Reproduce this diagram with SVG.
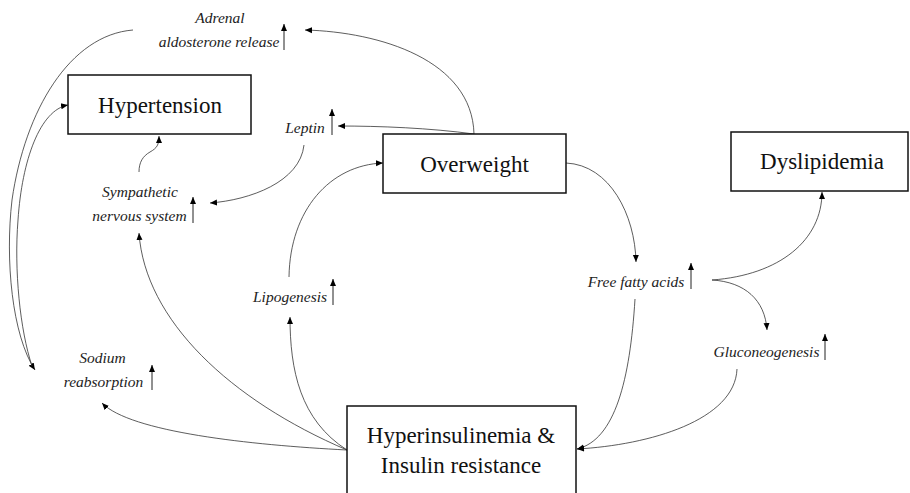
<svg xmlns="http://www.w3.org/2000/svg" width="910" height="493" viewBox="0 0 910 493" font-family="Liberation Serif, serif">
<style>
.box{fill:#fff;stroke:#111;stroke-width:1.5}
.c{fill:none;stroke:#333;stroke-width:0.8}
.up{stroke:#222;stroke-width:1}
</style>
<defs>
<marker id="ah" markerUnits="userSpaceOnUse" markerWidth="8" markerHeight="8" viewBox="0 0 8 8" refX="7" refY="4" orient="auto">
<path d="M0,1 L7,4 L0,7 Z" fill="#000"/>
</marker>
</defs>
<rect width="910" height="493" fill="#fff"/>
<g id="connectors">
<path class="c" marker-end="url(#ah)" d="M474,134 C472,60 380,32 305,30"/>
<path class="c" marker-end="url(#ah)" d="M474,134 C430,128 380,126 338,126"/>
<path class="c" marker-end="url(#ah)" d="M304,145 C300,182 250,200 210,203"/>
<path class="c" marker-end="url(#ah)" d="M139,172 C139,162 143,156 150,152 C157,148 159,145 159,136"/>
<path class="c" marker-end="url(#ah)" d="M133,30 C70,35 25,110 12,200 C5,260 12,335 35,370"/>
<path class="c" marker-end="url(#ah)" d="M32,366 C20,330 14,270 18,220 C22,160 40,110 68,105"/>
<path class="c" marker-end="url(#ah)" d="M347,450 C250,445 130,432 102,403"/>
<path class="c" marker-end="url(#ah)" d="M347,450 C230,400 145,320 139,233"/>
<path class="c" marker-end="url(#ah)" d="M347,450 C300,420 290,370 290,317"/>
<path class="c" marker-end="url(#ah)" d="M289,277 C290,210 330,165 383,163"/>
<path class="c" marker-end="url(#ah)" d="M566,163 C610,165 635,215 636,262"/>
<path class="c" marker-end="url(#ah)" d="M712,280 C780,275 822,240 822,192"/>
<path class="c" marker-end="url(#ah)" d="M712,280 C745,282 765,300 767,330"/>
<path class="c" marker-end="url(#ah)" d="M635,299 C630,380 615,440 577,449"/>
<path class="c" marker-end="url(#ah)" d="M737,369 C735,420 650,445 577,449"/>
</g>
<g id="hypertension">
<rect class="box" x="68" y="75" width="183" height="59"/>
<text x="160" y="113" font-family="Liberation Serif" font-size="23" fill="#111" text-anchor="middle">Hypertension</text>
</g>
<g id="overweight">
<rect class="box" x="383" y="134" width="183" height="59"/>
<text x="474.5" y="172" font-family="Liberation Serif" font-size="23" fill="#111" text-anchor="middle">Overweight</text>
</g>
<g id="dyslipidemia">
<rect class="box" x="731" y="132" width="177" height="59"/>
<text x="822" y="169" font-family="Liberation Serif" font-size="23" fill="#111" text-anchor="middle">Dyslipidemia</text>
</g>
<g id="hyperinsulinemia">
<rect class="box" x="347" y="406" width="229" height="100"/>
<text x="461" y="443" font-family="Liberation Serif" font-size="23" fill="#111" text-anchor="middle">Hyperinsulinemia &amp;</text>
<text x="461" y="473" font-family="Liberation Serif" font-size="23" fill="#111" text-anchor="middle">Insulin resistance</text>
</g>
<g id="adrenal">
<text x="220" y="23" font-family="Liberation Serif" font-size="15.5" font-style="italic" fill="#222" text-anchor="middle">Adrenal</text>
<text x="219" y="47" font-family="Liberation Serif" font-size="15.5" font-style="italic" fill="#222" text-anchor="middle">aldosterone release</text>
<line class="up" marker-end="url(#ah)" x1="284" y1="50" x2="284" y2="24"/>
</g>
<g id="leptin">
<text x="305" y="133" font-family="Liberation Serif" font-size="15.5" font-style="italic" fill="#222" text-anchor="middle">Leptin</text>
<line class="up" marker-end="url(#ah)" x1="332" y1="135" x2="332" y2="109"/>
</g>
<g id="sympathetic">
<text x="140" y="197" font-family="Liberation Serif" font-size="15.5" font-style="italic" fill="#222" text-anchor="middle">Sympathetic</text>
<text x="139.5" y="221" font-family="Liberation Serif" font-size="15.5" font-style="italic" fill="#222" text-anchor="middle">nervous system</text>
<line class="up" marker-end="url(#ah)" x1="193" y1="223" x2="193" y2="197"/>
</g>
<g id="lipogenesis">
<text x="290" y="302" font-family="Liberation Serif" font-size="15.5" font-style="italic" fill="#222" text-anchor="middle">Lipogenesis</text>
<line class="up" marker-end="url(#ah)" x1="333" y1="305" x2="333" y2="279"/>
</g>
<g id="sodium">
<text x="102.5" y="363" font-family="Liberation Serif" font-size="15.5" font-style="italic" fill="#222" text-anchor="middle">Sodium</text>
<text x="103.5" y="387" font-family="Liberation Serif" font-size="15.5" font-style="italic" fill="#222" text-anchor="middle">reabsorption</text>
<line class="up" marker-end="url(#ah)" x1="152" y1="390" x2="152" y2="365"/>
</g>
<g id="ffa">
<text x="636" y="287" font-family="Liberation Serif" font-size="15.5" font-style="italic" fill="#222" text-anchor="middle">Free fatty acids</text>
<line class="up" marker-end="url(#ah)" x1="691" y1="289" x2="691" y2="263"/>
</g>
<g id="gluconeogenesis">
<text x="766.5" y="357" font-family="Liberation Serif" font-size="15.5" font-style="italic" fill="#222" text-anchor="middle">Gluconeogenesis</text>
<line class="up" marker-end="url(#ah)" x1="825" y1="360" x2="825" y2="334"/>
</g>
</svg>
